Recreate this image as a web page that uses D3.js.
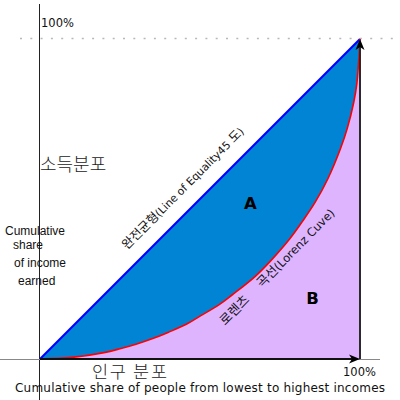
<!DOCTYPE html>
<html><head><meta charset="utf-8">
<script src="https://cdn.jsdelivr.net/npm/d3@7"></script>
<style>html,body{margin:0;padding:0;background:#fff}svg{display:block}text{font-family:"DejaVu Sans","Noto Sans CJK KR",sans-serif}</style>
</head><body>
<svg id="c" width="400" height="400"></svg>
<script>
// Data (percent of people, percent of income)
const equality = [[0,0],[100,100]];
const lorenzX = [0, 10, 20, 25, 30, 35, 40, 46, 50, 56, 60, 67, 72, 78, 82, 86, 90, 94, 96, 98, 99, 100];
const lorenzY = [0, 0.5, 2, 3.2, 4.6, 6.3, 8.3, 11, 13.4, 17, 20, 25.6, 30.6, 37.5, 43, 49, 56.4, 66, 72, 80, 86, 100];
const tickLabels = ["100%", "100%"];
const regionLabels = ["A", "B"];
const yTitleKo = "소득분포";
const xTitleKo = "인구 분포";
const yTitleEn = ["Cumulative", "share", "of income", "earned"];
const xTitleEn = "Cumulative share of people from lowest to highest incomes";
const equalityParts = [["완전균형", "ko"], ["(Line of Equality45 ", "en"], ["도", "ko"], [")", "en"]];
const lorenzParts = [["로렌츠", "ko"], ["곡선", "ko"], ["(Lorenz Cuve)", "en"]];

const svg = d3.select("#c");
const x = d3.scaleLinear().domain([0,100]).range([40,360]);
const y = d3.scaleLinear().domain([0,100]).range([359,39]);
const lorenz = lorenzX.map((v,i)=>[v, lorenzY[i]]);
const KO = '"Noto Sans CJK KR","DejaVu Sans",sans-serif';
const EN = '"DejaVu Sans",sans-serif';

const line = d3.line().x(d=>x(d[0])).y(d=>y(d[1])).curve(d3.curveCatmullRom.alpha(0.5));

// dotted 100% guide
svg.append("line").attr("x1",20).attr("x2",400).attr("y1",y(100)-0.5).attr("y2",y(100)-0.5)
  .attr("stroke","#b8b8b8").attr("stroke-width",1.5).attr("stroke-dasharray","2,8.3");

// left axis line
svg.append("line").attr("x1",39.5).attr("x2",39.5).attr("y1",4).attr("y2",400)
  .attr("stroke","#222").attr("stroke-width",1);
// gray baseline
svg.append("line").attr("x1",0).attr("x2",380).attr("y1",359.5).attr("y2",359.5)
  .attr("stroke","#888").attr("stroke-width",1);

// purple area B
svg.append("path").attr("d", line(lorenz) + "L" + x(100) + "," + y(0) + "Z")
  .attr("fill","#dfb4ff");
// blue area A
svg.append("path").attr("d", line(lorenz) + "L" + x(0) + "," + y(0) + "Z")
  .attr("fill","#0084d3");

// equality line
svg.append("path").attr("d", d3.line().x(d=>x(d[0])).y(d=>y(d[1]))(equality))
  .attr("stroke","#0000ff").attr("stroke-width",2.2).attr("fill","none");
// lorenz curve
svg.append("path").attr("d", line(lorenz)).attr("stroke","#ff0000").attr("stroke-width",1.6).attr("fill","none");

// dark axes with arrows
svg.append("line").attr("x1",x(100)).attr("x2",x(100)).attr("y1",y(0)).attr("y2",y(100)+8)
  .attr("stroke","#2a2a2a").attr("stroke-width",2);
svg.append("line").attr("x1",x(0)).attr("x2",x(100)-8).attr("y1",y(0)).attr("y2",y(0))
  .attr("stroke","#111").attr("stroke-width",2);
svg.append("path").attr("d", `M${x(100)},${y(100)} L${x(100)-4.5},${y(100)+11} L${x(100)},${y(100)+8} L${x(100)+4.5},${y(100)+11}Z`).attr("fill","#000");
svg.append("path").attr("d", `M${x(100)},${y(0)} L${x(100)-11},${y(0)-4.5} L${x(100)-8},${y(0)} L${x(100)-11},${y(0)+4.5}Z`).attr("fill","#000");

// tick labels
svg.append("text").attr("x",41).attr("y",27).attr("font-size",11.5).attr("fill","#111").text(tickLabels[0]);
svg.append("text").attr("x",343).attr("y",376).attr("font-size",11.5).attr("fill","#111").text(tickLabels[1]);

// titles
svg.append("text").attr("x",40).attr("y",171).attr("font-size",18).style("font-family",KO).attr("font-weight",300).attr("fill","#222").text(yTitleKo);
const ye = [[5,235],[13,249],[14,267],[18,285]];
yTitleEn.forEach((t,i)=>svg.append("text").attr("x",ye[i][0]).attr("y",ye[i][1]).attr("font-size",12)
  .style("font-family",'"Liberation Sans",Arial,sans-serif').attr("fill","#111").text(t));
svg.append("text").attr("x",92).attr("y",378).attr("font-size",17.5).style("font-family",KO).attr("font-weight",300).style("white-space","pre")
  .attr("fill","#222").attr("textLength",75).text(xTitleKo);
svg.append("text").attr("x",15).attr("y",392).attr("font-size",12).attr("fill","#111").attr("textLength",370).text(xTitleEn);

// diagonal labels
const eq = svg.append("text").attr("transform","translate(127,250) rotate(-45)").attr("fill","#111").style("white-space","pre");
equalityParts.forEach(p=>eq.append("tspan").style("font-family", p[1]==="ko"?KO:EN)
  .attr("font-size", p[1]==="ko"?12.5:10.8).text(p[0]));
const lz = svg.append("text").attr("transform","translate(225,326) rotate(-45.5)").attr("fill","#111").style("white-space","pre");
lorenzParts.forEach((p,i)=>lz.append("tspan").attr("dx", i===1?17:0).style("font-family", p[1]==="ko"?KO:EN)
  .attr("font-size", p[1]==="ko"?13:11.6).text(p[0]));

// region labels
svg.append("text").attr("x",250.5).attr("y",209).attr("text-anchor","middle").attr("font-size",16.5).attr("font-weight","bold").attr("fill","#000").text(regionLabels[0]);
svg.append("text").attr("x",312.5).attr("y",304).attr("text-anchor","middle").attr("font-size",16.5).attr("font-weight","bold").attr("fill","#000").text(regionLabels[1]);
</script>
</body></html>
